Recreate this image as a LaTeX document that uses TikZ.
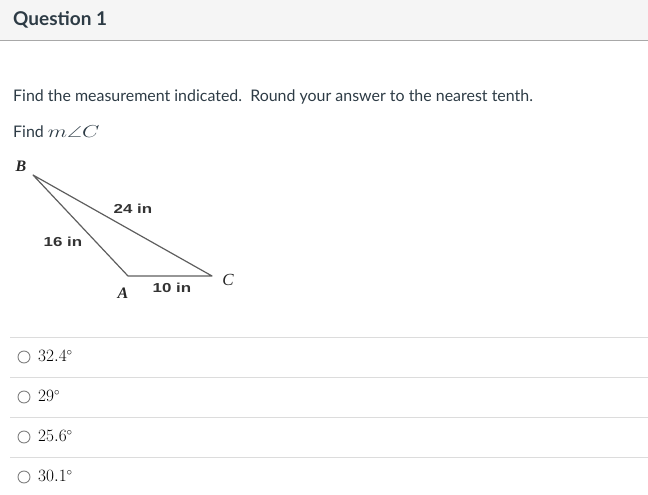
\documentclass[tikz,border=0pt]{standalone}
\usepackage{fontspec}
\usepackage{amssymb}
\newfontfamily\latofont{Lato}
\newfontfamily\labelfont{Liberation Sans}
\newfontfamily\vertfont{Liberation Serif}
\definecolor{headgray}{HTML}{F5F5F5}
\definecolor{rulegray}{HTML}{A8A8A8}
\definecolor{sepgray}{HTML}{DCDCDC}
\definecolor{edgegray}{HTML}{5E5E5E}
\definecolor{textdark}{HTML}{2D3B45}
\tikzset{
  sidelabel/.style={font=\labelfont\bfseries\fontsize{13}{15}\selectfont, inner sep=0pt,
    xscale=1.3, transform shape, text=black!80},
  vertlabel/.style={font=\vertfont\bfseries\itshape\fontsize{16}{18}\selectfont, inner sep=0pt,
    text=black!85},
  radio/.style={circle, draw=gray, line width=0.9pt, minimum size=12pt, inner sep=0pt},
  choice/.style={font=\fontsize{16}{18}\selectfont, anchor=base west, inner sep=0pt, text=black},
}
\begin{document}
\begin{tikzpicture}[x=1pt, y=-1pt]
  \useasboundingbox (0,0) rectangle (648,495);

  % Header
  \fill[headgray] (0,0) rectangle (648,41);
  \draw[rulegray, line width=1pt] (0,41) -- (648,41);
  \node[anchor=base west, inner sep=0pt, text=textdark,
        font=\latofont\bfseries\fontsize{19}{21}\selectfont] (title) at (13,26) {Question 1};

  % Question text
  \node[anchor=base west, inner sep=0pt, text=textdark,
        font=\latofont\fontsize{15.95}{18}\selectfont] (ask) at (13,101)
        {Find the measurement indicated.\ \ Round your answer to the nearest tenth.};
  \node[anchor=base west, inner sep=0pt, text=textdark,
        font=\latofont\fontsize{15.95}{18}\selectfont] (find) at (13,137)
        {Find \scalebox{1.3}[1]{$m\angle C$}};

  % Triangle
  \coordinate (B) at (33,175);
  \coordinate (A) at (128,276);
  \coordinate (C) at (212,276);

  \draw[edgegray, line width=1.2pt, line join=round] (B) -- (A) -- (C) -- cycle;

  \node[vertlabel] (labB) at (21,166) {B};
  \node[vertlabel] (labA) at (123,293) {A};
  \node[vertlabel, font=\vertfont\itshape\fontsize{17}{19}\selectfont] (labC) at (228,280) {C};

  \node[sidelabel] (ab) at (63,242) {16 in};
  \node[sidelabel] (bc) at (133,209) {24 in};
  \node[sidelabel] (ac) at (172,288) {10 in};

  % Answer choices
  \foreach \ys in {337,377,417,457}
    \draw[sepgray, line width=0.9pt] (10,\ys) -- (648,\ys);

  \foreach \yc/\val [count=\i] in {357/32.4, 397/29, 437/25.6, 477/30.1} {
    \node[radio] (r\i) at (24,\yc) {};
    \node[choice] (c\i) at (38,\yc+4.5) {$\val^\circ$};
  }
\end{tikzpicture}
\end{document}
